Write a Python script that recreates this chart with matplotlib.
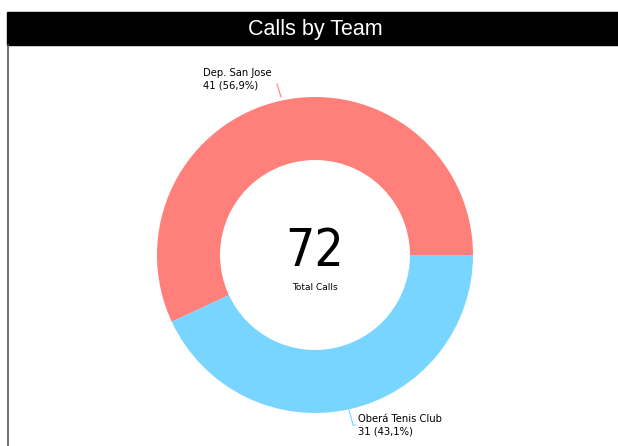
import matplotlib
matplotlib.use('Agg')
from matplotlib import pyplot as plt
from matplotlib.patches import Rectangle

teams = ['Dep. San Jose', 'Oberá Tenis Club']
calls = [41, 31]
colors = ['#FF7F7A', '#78D5FF']
title = 'Calls by Team'
center_label = 'Total Calls'

total = sum(calls)

fig = plt.figure(figsize=(6.18, 4.46), dpi=100)
ax = fig.add_axes([0, 0, 1, 1])

H = 446

# title bar + frame line
ax.add_patch(Rectangle((7, H - 45), 611, 33, color='black', zorder=1))
ax.text(315, H - 29, title, color='white', fontsize=15.5, family='Liberation Sans',
        ha='center', va='center', zorder=2)
ax.plot([7.5, 7.5], [0, H - 45], color='#555555', lw=1.2)

# donut
cx, cy = 315, H - 255
ax.pie(calls, colors=colors, startangle=0, counterclock=True,
       center=(cx, cy), radius=158, wedgeprops=dict(width=63, linewidth=0),
       frame=True)
ax.set_xlim(0, 618)
ax.set_ylim(0, 446)
ax.set_aspect('equal')
ax.axis('off')

ax.text(cx, cy + 3, str(total), fontsize=37, stretch='condensed',
        ha='center', va='center')
ax.text(cx, cy - 33, center_label, fontsize=6.5, ha='center', va='center')

# labels with leader lines
lbl = []
for t, c in zip(teams, calls):
    p = f'{c / total * 100:.1f}'.replace('.', ',')
    lbl.append(f'{t}\n{c} ({p}%)')

ax.plot([277, 281], [H - 84, H - 97], color=colors[0], lw=0.8)
ax.text(203, H - 68, lbl[0], fontsize=7.2, ha='left', va='top', linespacing=1.35)

ax.plot([349, 353, 356], [H - 410, H - 425, H - 425], color=colors[1], lw=0.8)
ax.text(358, H - 414, lbl[1], fontsize=7.2, ha='left', va='top', linespacing=1.35)

fig.savefig('out.png', dpi=100)
